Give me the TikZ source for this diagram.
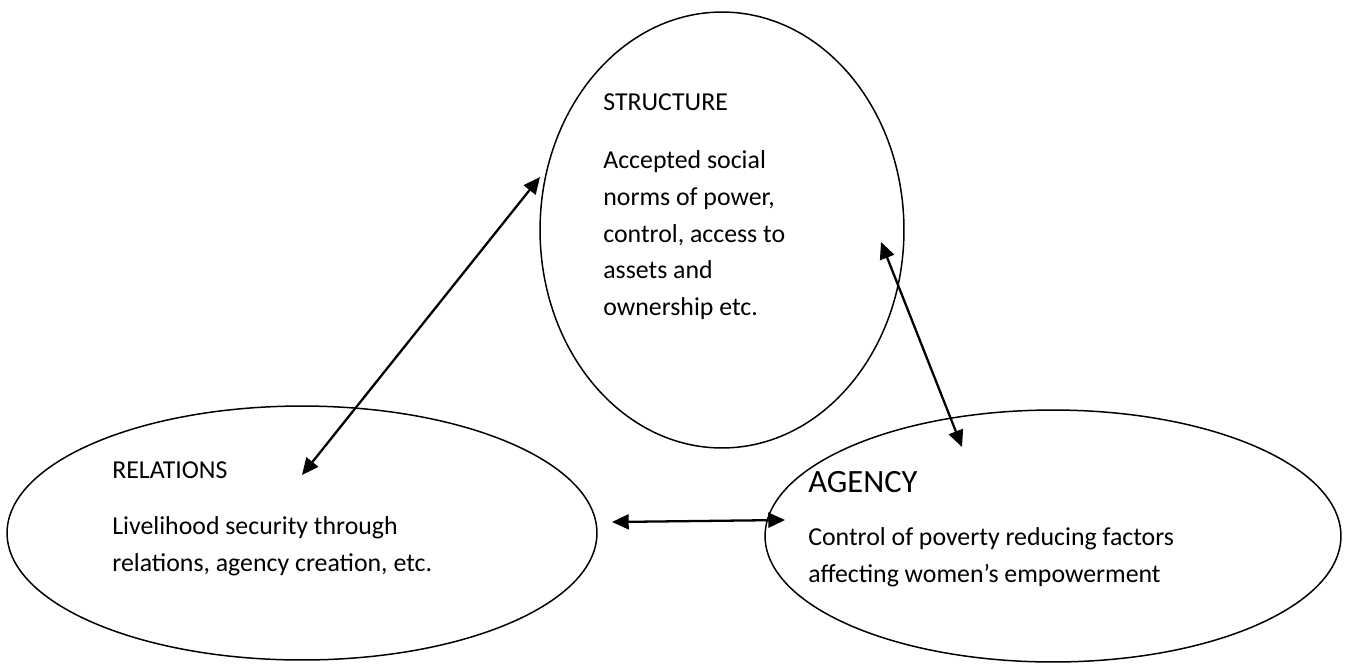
\documentclass[tikz,border=0pt]{standalone}
\usepackage{fontspec}
\setmainfont{Carlito}
\usetikzlibrary{shapes.geometric,arrows.meta}

\tikzset{
  blob/.style={draw, ellipse, line width=0.85pt, inner sep=0pt, outer sep=0pt},
  label/.style={anchor=west, align=left, inner sep=0pt,
    font=\fontsize{14.7}{21}\selectfont},
  big/.style={anchor=west, inner sep=0pt, font=\fontsize{18.5}{22}\selectfont},
  link/.style={line width=1.3pt, {Triangle[length=9.5pt,width=8.5pt]}-{Triangle[length=9.5pt,width=8.5pt]}}
}

\begin{document}
\begin{tikzpicture}[x=0.02cm, y=-0.02cm]
    \useasboundingbox (0,0) rectangle (1348,664);

    % the three ellipses
    \node[blob, minimum width=7.28cm, minimum height=8.72cm] (structure) at (722,230) {};
    \node[blob, minimum width=11.8cm, minimum height=5.08cm] (relations) at (302,533) {};
    \node[blob, minimum width=11.52cm, minimum height=5.04cm] (agency) at (1053,536) {};

    % texts
    \node[label] (structhead) at (603,102) {STRUCTURE};
    \node[label, anchor=north west] (structbody) at (603,150) {Accepted social\\norms of power,\\control, access to\\assets and\\ownership etc.};

    \node[label] (relhead) at (112,470) {RELATIONS};
    \node[label, anchor=north west] (relbody) at (112,516) {Livelihood security through\\relations, agency creation, etc.};

    \node[big] (agenhead) at (808,482) {AGENCY};
    \node[label, anchor=north west] (agenbody) at (808,527) {Control of poverty reducing factors\\affecting women’s empowerment};

    % arrow ends
    \coordinate (s1) at (540,177);
    \coordinate (r1) at (302,475);
    \coordinate (s2) at (881,242);
    \coordinate (a2) at (962,447);
    \coordinate (r3) at (612,522);
    \coordinate (a3) at (785,520);

    \draw[link] (r1) -- (s1);
    \draw[link] (s2) -- (a2);
    \draw[link] (r3) -- (a3);
\end{tikzpicture}
\end{document}
